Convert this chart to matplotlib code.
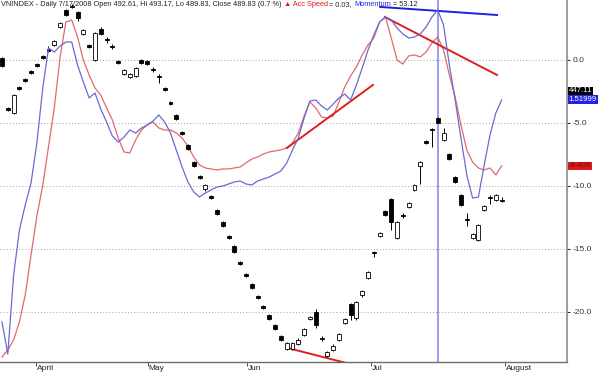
import matplotlib
matplotlib.use("Agg")
import matplotlib.pyplot as plt
from matplotlib.patches import Rectangle
from matplotlib.transforms import blended_transform_factory
import numpy as np

plt.rcParams['font.family'] = ['Liberation Sans', 'DejaVu Sans']

# VNINDEX daily candles, April 2008 - 1 August 2008
opens = [525.7, 498.2, 495.5, 509.8, 514.2, 518.6, 522.4, 526.8, 530.7, 532.9,
         542.8, 552.1, 554.3, 551.0, 538.9, 532.9, 524.6, 541.7, 536.2, 532.3,
         524.1, 516.9, 515.3, 515.8, 524.6, 524.1, 519.7, 515.8, 509.2, 501.5,
         494.4, 485.0, 477.9, 468.5, 460.8, 453.7, 449.8, 442.1, 435.5, 427.8,
         422.3, 413.5, 406.9, 401.4, 394.8, 389.3, 384.4, 378.9, 372.8, 365.7,
         365.7, 368.4, 373.4, 382.2, 386.0, 371.7, 361.8, 365.1, 370.6, 380.0,
         390.4, 382.7, 395.4, 404.7, 419.0, 427.8, 441.6, 448.2, 426.7, 439.4,
         443.8, 453.1, 466.3, 480.1, 486.7, 492.61, 480.6, 472.9, 460.3, 450.4,
         437.2, 426.7, 425.6, 442.1, 449.3, 447.6, 447.6]
highs = [526.2, 498.8, 505.9, 510.3, 514.7, 519.1, 523.0, 527.4, 532.3, 535.6,
         545.5, 552.7, 555.4, 551.6, 541.7, 533.4, 540.0, 542.8, 537.3, 533.4,
         524.6, 519.7, 517.5, 520.8, 525.2, 524.6, 520.8, 516.9, 509.8, 502.1,
         494.9, 485.6, 478.4, 469.1, 461.4, 456.4, 450.4, 442.7, 436.1, 428.4,
         422.9, 414.1, 407.5, 402.0, 395.4, 389.9, 384.9, 379.4, 373.4, 369.5,
         369.5, 371.7, 377.2, 383.8, 387.7, 372.8, 364.6, 368.4, 374.5, 382.7,
         391.0, 392.1, 398.1, 408.6, 419.6, 430.0, 442.1, 448.7, 436.1, 440.5,
         446.5, 456.4, 469.1, 480.6, 487.2, 493.17, 487.2, 473.5, 460.8, 450.9,
         440.5, 429.5, 434.4, 444.9, 450.4, 450.9, 449.3]
lows = [520.8, 496.6, 494.9, 508.1, 512.5, 516.9, 520.8, 525.2, 529.0, 532.3,
        542.2, 548.8, 553.2, 546.1, 538.4, 531.2, 524.1, 538.4, 534.0, 530.7,
        522.4, 516.4, 514.7, 515.3, 522.4, 521.9, 518.0, 512.0, 507.6, 499.9,
        491.6, 483.4, 475.1, 465.8, 459.2, 452.6, 448.2, 439.4, 432.8, 426.2,
        418.5, 411.9, 405.3, 398.7, 393.2, 387.7, 381.6, 376.1, 370.1, 365.1,
        365.1, 367.9, 372.8, 381.6, 377.2, 370.1, 361.3, 364.6, 370.1, 379.4,
        381.6, 381.6, 394.3, 404.2, 416.3, 427.3, 438.8, 431.1, 426.2, 437.7,
        443.2, 452.6, 456.4, 478.4, 476.8, 489.83, 480.1, 469.6, 457.0, 444.3,
        433.3, 426.2, 425.1, 441.6, 445.4, 447.1, 446.5]
closes = [521.3, 497.1, 505.4, 508.7, 513.1, 517.5, 521.3, 525.7, 529.6, 535.1,
          545.0, 549.4, 553.8, 547.7, 541.1, 531.8, 539.5, 538.9, 535.6, 531.8,
          523.0, 519.1, 516.9, 520.2, 523.0, 522.4, 519.1, 515.3, 508.1, 500.4,
          492.2, 483.9, 475.7, 466.3, 459.7, 455.9, 448.7, 439.9, 433.3, 426.7,
          419.0, 412.4, 405.8, 399.2, 393.7, 388.2, 382.2, 376.7, 370.6, 369.0,
          369.0, 370.6, 376.7, 383.3, 378.9, 371.2, 364.0, 367.3, 373.9, 382.2,
          384.4, 391.5, 397.6, 408.0, 418.5, 429.5, 439.4, 435.5, 435.5, 438.8,
          446.0, 455.9, 468.5, 479.0, 486.1, 489.83, 484.5, 470.2, 457.5, 444.9,
          436.6, 428.9, 433.9, 444.3, 448.7, 450.4, 447.11]

# indicators
acc_speed = [-23.57, -23.02, -22.22, -20.79, -18.65, -15.48, -12.38, -10.0, -6.90, -3.81,
             0.24, 3.02, 3.17, 1.83, 0.0, -1.19, -2.22, -2.78, -3.81, -4.76,
             -6.19, -7.30, -7.38, -6.35, -5.56, -5.16, -4.92, -5.40, -5.56, -5.56,
             -5.79, -6.19, -6.83, -7.70, -8.33, -8.57, -8.65, -8.73, -8.65, -8.65,
             -8.57, -8.49, -8.17, -7.86, -7.70, -7.46, -7.30, -7.22, -7.14, -6.98,
             -6.59, -5.79, -4.44, -3.33, -3.81, -4.52, -4.60, -4.44, -3.33, -2.14,
             -1.27, -0.56, 0.40, 1.19, 1.75, 3.02, 3.41, 1.75, 0.0, -0.32,
             0.32, 0.40, 0.24, 0.63, 1.35, 1.83, 0.79, -1.19, -2.94, -5.16,
             -7.14, -8.10, -8.57, -8.73, -8.57, -9.13, -8.41]
momentum = [-131.7, -150.9, -103.5, -76.5, -61.5, -48.3, -24.3, 8.1, 32.7, 30.3,
            33.9, 36.3, 36.3, 22.5, 12.3, 2.7, 5.7, -3.9, -11.7, -20.1,
            -23.7, -20.7, -16.5, -18.3, -15.3, -13.5, -11.1, -7.5, -11.7, -18.3,
            -28.5, -38.7, -47.7, -53.7, -56.7, -54.3, -52.5, -50.7, -50.1, -48.9,
            -47.7, -47.1, -48.9, -49.5, -47.1, -45.9, -44.7, -42.9, -41.1, -36.3,
            -28.5, -21.3, -9.3, 0.9, 1.5, -2.1, -4.5, -0.9, 2.7, 5.1,
            1.5, 10.5, 20.7, 31.5, 40.5, 48.3, 51.3, 49.5, 44.7, 41.1,
            38.7, 39.3, 41.1, 45.3, 51.3, 55.5, 46.5, 22.5, 1.5, -21.3,
            -43.5, -57.3, -56.7, -37.5, -19.5, -6.3, 1.52]

month_labels = ['April', 'May', 'Jun', 'Jul', 'August']
month_pos = [5.85, 25.1, 42.2, 63.5, 86.6]

# hand drawn trend lines: (bar0, val0, bar1, val1, colour)
trend_lines = [(49.05, -6.98, 63.85, -1.98, '#dd1f1f'),
               (65.9, 3.41, 85.2, -1.19, '#dd1f1f'),
               (49.2, -22.86, 61.3, -24.29, '#dd1f1f'),
               (65.1, 4.21, 85.2, 3.57, '#1f1fdd')]
cursor_bar = 75

bars = np.arange(len(closes))

fig = plt.figure(figsize=(6, 3.73), dpi=100)
ax = fig.add_axes([0.0, 11 / 373, 567 / 600, 362 / 373])
axp = ax.twinx()
axm = ax.twinx()
axp.set_ylim(358.5, 557.6)
axm.set_ylim(-155.7, 61.5)
axp.axis('off')
axm.axis('off')

ax.set_xlim(-0.344, 97.25)
ax.set_ylim(-23.97, 4.76)

# grid
for v in [0, -5, -10, -15, -20]:
    ax.axhline(v, color='#a4a4a4', lw=0.7, ls=(0, (1, 2.2)), zorder=0)

# candles
w = 0.68
for i in bars:
    o, h, l, c = opens[i], highs[i], lows[i], closes[i]
    axp.vlines(i, l, h, color='black', lw=0.7, zorder=3)
    lo = min(o, c)
    ht = max(abs(c - o), 0.6)
    fc = 'black' if c < o else 'white'
    axp.add_patch(Rectangle((i - w / 2, lo), w, ht, facecolor=fc,
                            edgecolor='black', lw=0.6, zorder=4))

ax.plot(bars, acc_speed, color='#e06a6a', lw=0.9, zorder=5)
axm.plot(bars, momentum, color='#6a6ad0', lw=0.9, zorder=5)

for x0, y0, x1, y1, col in trend_lines:
    ax.plot([x0, x1], [y0, y1], color=col, lw=1.4, zorder=6)

ax.axvline(cursor_bar, color='#9c9cf0', lw=1.4, zorder=2)

# spines / ticks
for s in ['left', 'top']:
    ax.spines[s].set_visible(False)
ax.spines['right'].set_color('#8c8c8c')
ax.spines['right'].set_linewidth(1.2)
ax.spines['bottom'].set_color('#6c6c6c')
ax.spines['bottom'].set_linewidth(1.0)
ax.yaxis.tick_right()
ax.set_yticks([0, -5, -10, -15, -20])
ax.set_yticklabels(['0.0', '-5.0', '-10.0', '-15.0', '-20.0'])
ax.tick_params(axis='y', length=2, pad=2, labelsize=6, colors='#333333')
ax.set_xticks(month_pos)
ax.set_xticklabels([])
ax.tick_params(axis='x', length=3, width=0.6, direction='out', colors='#333333')
trans = blended_transform_factory(ax.transData, ax.transAxes)
for p, lab in zip(month_pos, month_labels):
    ax.text(p + 0.15, -0.008, lab, transform=trans, ha='left', va='top',
            fontsize=6, color='#222222')

# value labels at the right axis
trans_r = blended_transform_factory(ax.transAxes, ax.transData)
ax.text(1.003, -2.46, '447.11', transform=trans_r, ha='left', va='center',
        fontsize=5.6, color='white',
        bbox=dict(boxstyle='square,pad=0.12', fc='black', ec='none'))
ax.text(1.003, -3.17, '1.51999', transform=trans_r, ha='left', va='center',
        fontsize=5.6, color='white',
        bbox=dict(boxstyle='square,pad=0.12', fc='#2323e6', ec='none'))
ax.text(1.003, -8.41, '-8.409', transform=trans_r, ha='left', va='center',
        fontsize=5.6, color='#551111',
        bbox=dict(boxstyle='square,pad=0.12', fc='#e01818', ec='none'))

# title line at the top edge
parts = [('VNINDEX - Daily 7/17/2008 Open 492.61, Hi 493.17, Lo 489.83, Close 489.83 (0.7 %) ', '#222222'),
         ('\u25b2 Acc Speed', '#e01818'),
         (' = 0.03, ', '#222222'),
         ('Momentum', '#2323e6'),
         (' = 53.12', '#222222')]
fig.canvas.draw()
r = fig.canvas.get_renderer()
x = 1 / 600
for txt, col in parts:
    t = fig.text(x, 1 - 1 / 373, txt, color=col, fontsize=5.3, ha='left', va='top')
    x += t.get_window_extent(renderer=r).width / fig.bbox.width

fig.savefig('out.png', dpi=100)
